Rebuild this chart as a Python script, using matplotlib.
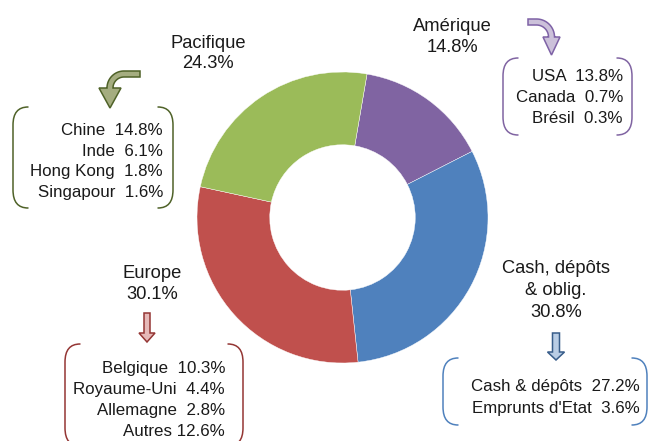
import numpy as np
import matplotlib
matplotlib.use("Agg")
import matplotlib.pyplot as plt
from matplotlib.path import Path
from matplotlib.patches import PathPatch, Polygon

plt.rcParams['font.family'] = ['Liberation Sans', 'DejaVu Sans']

# ---- data ----
categories = ["Amérique", "Cash, dépôts\n& oblig.", "Europe", "Pacifique"]
shares = [14.8, 30.8, 30.1, 24.3]
colors = ["#8064A2", "#4F81BD", "#C0504D", "#9BBB59"]

pac_names = ["Chine", "Inde", "Hong Kong", "Singapour"]
pac_vals = [14.8, 6.1, 1.8, 1.6]
ame_names = ["USA", "Canada", "Brésil"]
ame_vals = [13.8, 0.7, 0.3]
eur_names = ["Belgique", "Royaume-Uni", "Allemagne", "Autres"]
eur_vals = [10.3, 4.4, 2.8, 12.6]
cash_names = ["Cash & dépôts", "Emprunts d'Etat"]
cash_vals = [27.2, 3.6]

W, H = 649, 441
fig = plt.figure(figsize=(W / 100, H / 100), dpi=100)

# ---- donut ----
cx, cy, R = 342.5, 217.5, 145.5
ax = fig.add_axes([(cx - R) / W, (H - cy - R) / H, 2 * R / W, 2 * R / H])
ax.pie(shares, colors=colors, startangle=80.3, counterclock=False,
       wedgeprops=dict(width=0.5, edgecolor='white', linewidth=0.3))
ax.set_xlim(-1, 1)
ax.set_ylim(-1, 1)
ax.set_aspect('equal')

# ---- overlay in pixel coordinates ----
ov = fig.add_axes([0, 0, 1, 1], zorder=5)
ov.set_xlim(0, W)
ov.set_ylim(H, 0)
ov.axis('off')
ov.patch.set_alpha(0)

TXT = '#1a1a1a'


def lines(x, ys, texts, ha, fs=12.2):
    for y, t in zip(ys, texts):
        ov.text(x, y + 6, t, ha=ha, va='baseline', fontsize=fs, color=TXT)


def fmt(v):
    return f"{v:.1f}%"


# main labels
lines(208, [42, 62], ["Pacifique", fmt(shares[3])], 'center', 13.2)
lines(452, [25, 46], ["Amérique", fmt(shares[0])], 'center', 13.2)
lines(152, [272, 293], ["Europe", fmt(shares[2])], 'center', 13.2)
lines(556, [267, 289, 311], ["Cash, dépôts", "& oblig.", fmt(shares[1])], 'center', 13.2)

# box texts
lines(163, [129, 149.5, 170, 190.5],
      [f"{n}  {fmt(v)}" for n, v in zip(pac_names, pac_vals)], 'right')
lines(623, [75, 96.5, 117],
      [f"{n}  {fmt(v)}" for n, v in zip(ame_names, ame_vals)], 'right')
lines(225, [367, 388, 409, 430],
      [f"{n}  {fmt(v)}" if n != "Autres" else f"{n} {fmt(v)}"
       for n, v in zip(eur_names, eur_vals)], 'right')
lines(640, [385, 407],
      [f"{n}  {fmt(v)}" for n, v in zip(cash_names, cash_vals)], 'right')


def bracket(x, top, bot, side, color, w=15, h=18):
    s = 1 if side == 'left' else -1
    verts = [(x + s * w, top), (x, top), (x, top + h),
             (x, bot - h), (x, bot), (x + s * w, bot)]
    codes = [Path.MOVETO, Path.CURVE3, Path.CURVE3,
             Path.LINETO, Path.CURVE3, Path.CURVE3]
    ov.add_patch(PathPatch(Path(verts, codes), fill=False, edgecolor=color,
                           linewidth=1.1, capstyle='round'))


def box(l, r, top, bot, color):
    bracket(l, top, bot, 'left', color)
    bracket(r, top, bot, 'right', color)


box(13, 173, 107, 208, '#4F6228')
box(503, 632, 58, 135, '#8064A2')
box(65, 243, 344, 446, '#943634')
box(443, 647, 358, 425, '#4F81BD')


def straight_arrow(xc, y0, yh, ytip, hw, hh, fc, ec):
    pts = [(xc - hw, y0), (xc + hw, y0), (xc + hw, yh), (xc + hh, yh),
           (xc, ytip), (xc - hh, yh), (xc - hw, yh)]
    ov.add_patch(Polygon(pts, closed=True, facecolor=fc, edgecolor=ec, linewidth=1.1))


straight_arrow(147, 313, 333, 342, 3, 8, '#E6B9B8', '#943634')
straight_arrow(556, 333, 352, 360, 3.5, 8.5, '#B9CDE5', '#385D8A')


def curved_arrow(x_start, y_c, x_vert, y_head, y_tip, hw, hh, fc, ec):
    # shaft horizontal at y_c from x_start, then turning down to vertical at x_vert
    r = y_head - y_c
    d = np.sign(x_vert - x_start)  # +1: going right, -1: going left
    acx = x_vert - d * r
    acy = y_head
    t_out = np.linspace(90, 180, 30) if d < 0 else np.linspace(90, 0, 30)
    pts = [(x_start, y_c - hw)]
    for t in t_out:
        pts.append((acx + (r + hw) * np.cos(np.radians(t)),
                    acy - (r + hw) * np.sin(np.radians(t))))
    pts += [(x_vert + d * hh, y_head), (x_vert, y_tip), (x_vert - d * hh, y_head)]
    for t in t_out[::-1]:
        pts.append((acx + (r - hw) * np.cos(np.radians(t)),
                    acy - (r - hw) * np.sin(np.radians(t))))
    pts.append((x_start, y_c + hw))
    ov.add_patch(Polygon(pts, closed=True, facecolor=fc, edgecolor=ec, linewidth=1.1))


curved_arrow(140, 74, 110, 88, 108, 3, 11, '#A5AD80', '#4F6228')
curved_arrow(528, 22, 551.5, 37, 55, 3, 8.5, '#CCC1DA', '#7E62A6')

fig.savefig("out.png", dpi=100)
